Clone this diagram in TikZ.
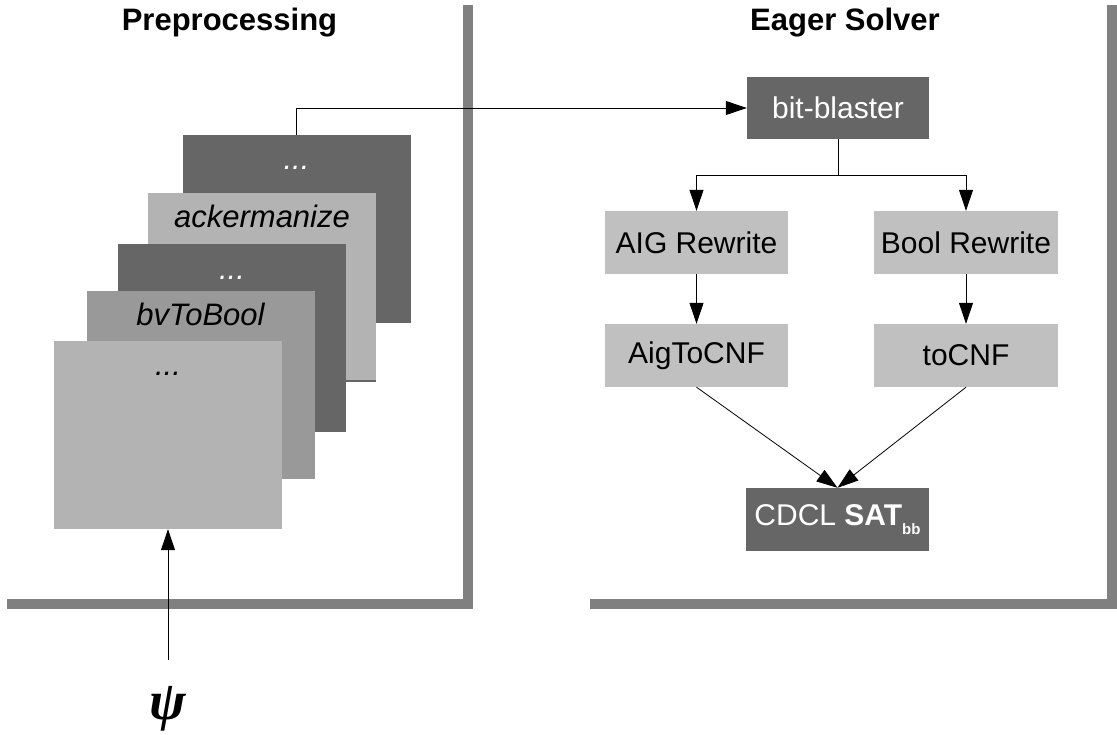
\documentclass[tikz,border=0pt]{standalone}
\usepackage{fontspec}
\setmainfont{Liberation Sans}
\newfontfamily\psifont{Liberation Serif}
\usetikzlibrary{arrows.meta}
\definecolor{darkbox}{HTML}{666666}
\definecolor{lightbox}{HTML}{C0C0C0}
\definecolor{layerlight}{HTML}{B3B3B3}
\definecolor{layermid}{HTML}{999999}
\definecolor{wallgray}{HTML}{808080}
\tikzset{
  layer/.style={draw=none, rectangle, inner sep=0pt, minimum width=228pt, minimum height=188pt},
  procbox/.style={draw=none, rectangle, inner sep=0pt, minimum width=183pt, minimum height=63pt, font=\fontsize{30}{36}\selectfont},
  lighttext/.style={font=\fontsize{31}{37}\selectfont\itshape, anchor=base},
  wall/.style={draw=wallgray, line width=10pt},
  conn/.style={draw=black, line width=0.8pt, -{Triangle[length=21pt,width=14pt]}},
  plain/.style={draw=black, line width=0.8pt},
  title/.style={font=\fontsize{31}{37}\selectfont\bfseries, anchor=base}
}
\begin{document}
\begin{tikzpicture}[x=1pt,y=-1pt]
\useasboundingbox (0,0) rectangle (1117,734);
% walls
\draw[wall] (7,604) -- (468,604) -- (468,5);
\draw[wall] (590,604) -- (1112,604) -- (1112,5);
% titles
\node[title] (t1) at (229.5,30) {Preprocessing};
\node[title] (t2) at (845,30) {Eager Solver};
% layers (back to front)
\node[layer, fill=darkbox] (L5) at (296.5,229) {};
\node[lighttext, text=white] (L5t) at (296.5,169) {...};
\node[layer, fill=layerlight] (L4) at (262,287) {};
\draw[darkbox, line width=1.5pt] (L4.south west) -- (L4.south east);
\node[lighttext] (L4t) at (262,227) {ackermanize};
\node[layer, fill=darkbox] (L3) at (232,338) {};
\node[lighttext, text=white] (L3t) at (232,279) {...};
\node[layer, fill=layermid] (L2) at (200.5,385) {};
\node[lighttext] (L2t) at (200.5,325) {bvToBool};
\node[layer, fill=layerlight] (L1) at (168,435) {};
\node[lighttext] (L1t) at (168,375) {...};
% input
\node[font=\psifont\fontsize{55}{60}\selectfont\bfseries\itshape, inner sep=0pt] (psi) at (168,709) {ψ};
\coordinate (psitop) at (168,660);
\draw[conn] (psitop) -- (L1.south);
% eager solver boxes
\node[procbox, fill=darkbox, text=white, minimum width=182pt, minimum height=62pt] (bb) at (838,108) {bit-blaster};
\node[procbox, fill=lightbox] (aig) at (696.5,242.5) {AIG Rewrite};
\node[procbox, fill=lightbox, minimum width=184pt] (bool) at (966,242.5) {Bool Rewrite};
\node[procbox, fill=lightbox] (aigcnf) at (696.5,355.5) {AigToCNF};
\node[procbox, fill=lightbox, minimum width=184pt] (tocnf) at (966,355.5) {toCNF};
\node[procbox, fill=darkbox, text=white] (sat) at (837.5,519.5) {CDCL \textbf{SAT}\raisebox{-9pt}{\fontsize{15}{15}\selectfont\bfseries bb}};
% connectors
\draw[conn] (L5.north) |- (bb.west);
\coordinate (split) at (838,175);
\draw[plain] (bb.south) -- (split);
\draw[conn] (split) -| (aig.north);
\draw[conn] (split) -| (bool.north);
\draw[conn] (aig) -- (aigcnf);
\draw[conn] (bool) -- (tocnf);
\draw[conn] (aigcnf.south) -- (sat.north);
\draw[conn] (tocnf.south) -- (sat.north);
\end{tikzpicture}
\end{document}
